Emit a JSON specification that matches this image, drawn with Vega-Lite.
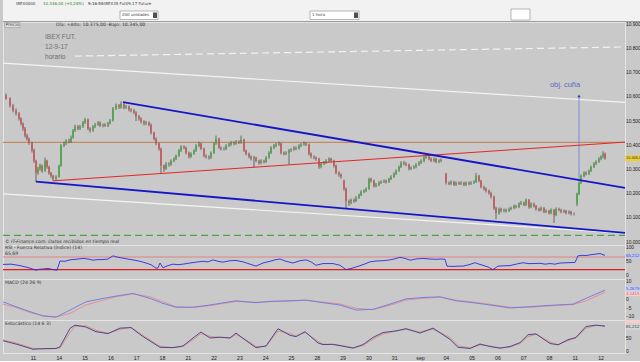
{
"$schema": "https://vega.github.io/schema/vega-lite/v6.json",
"background": "#c9c9c9",
"padding": 0,
"bounds": "flush",
"spacing": 0,
"config": {
  "font": "DejaVu Sans",
  "view": {"stroke": "#e4e4e4", "fill": "#c9c9c9", "strokeWidth": 1},
  "axis": {"labelFont": "Liberation Sans", "labelFontSize": 4.8, "labelColor": "#202020", "ticks": false, "tickSize": 0, "domain": false, "grid": false, "labelPadding": 0.5}
},
"datasets": {
  "candles": [
{"i":3,"o":10606,"h":10614,"l":10588,"c":10593},{"i":7,"o":10593,"h":10598,"l":10556,"c":10564},{"i":10,"o":10564,"h":10571,"l":10536,"c":10544},{"i":13,"o":10544,"h":10552,"l":10523,"c":10531},{"i":16,"o":10531,"h":10537,"l":10502,"c":10510},{"i":18,"o":10510,"h":10515,"l":10482,"c":10490},{"i":20,"o":10490,"h":10494,"l":10460,"c":10469},{"i":22,"o":10469,"h":10475,"l":10432,"c":10440},{"i":24,"o":10440,"h":10447,"l":10419,"c":10427},{"i":26,"o":10427,"h":10432,"l":10402,"c":10411},
{"i":29,"o":10411,"h":10415,"l":10370,"c":10378},{"i":31,"o":10378,"h":10386,"l":10327,"c":10336},{"i":33,"o":10336,"h":10340,"l":10249,"c":10286},{"i":35,"o":10286,"h":10311,"l":10278,"c":10303},{"i":37,"o":10303,"h":10324,"l":10295,"c":10315},{"i":39,"o":10315,"h":10320,"l":10286,"c":10295},{"i":42,"o":10295,"h":10349,"l":10290,"c":10336},{"i":44,"o":10336,"h":10340,"l":10303,"c":10311},{"i":46,"o":10311,"h":10315,"l":10278,"c":10286},{"i":48,"o":10286,"h":10290,"l":10266,"c":10274},
{"i":50,"o":10274,"h":10278,"l":10253,"c":10261},{"i":53,"o":10261,"h":10276,"l":10255,"c":10270},{"i":56,"o":10270,"h":10320,"l":10266,"c":10315},{"i":58,"o":10315,"h":10405,"l":10311,"c":10398},{"i":61,"o":10398,"h":10415,"l":10392,"c":10407},{"i":63,"o":10407,"h":10425,"l":10400,"c":10419},{"i":66,"o":10419,"h":10427,"l":10408,"c":10415},{"i":68,"o":10415,"h":10440,"l":10410,"c":10432},{"i":70,"o":10432,"h":10467,"l":10427,"c":10461},{"i":72,"o":10461,"h":10485,"l":10455,"c":10477},
{"i":75,"o":10477,"h":10483,"l":10462,"c":10469},{"i":77,"o":10469,"h":10484,"l":10463,"c":10477},{"i":80,"o":10477,"h":10500,"l":10472,"c":10494},{"i":82,"o":10494,"h":10513,"l":10488,"c":10506},{"i":85,"o":10506,"h":10510,"l":10462,"c":10469},{"i":87,"o":10469,"h":10474,"l":10452,"c":10461},{"i":90,"o":10461,"h":10483,"l":10456,"c":10477},{"i":92,"o":10477,"h":10492,"l":10471,"c":10485},{"i":95,"o":10485,"h":10500,"l":10480,"c":10494},{"i":97,"o":10494,"h":10498,"l":10475,"c":10481},
{"i":100,"o":10481,"h":10490,"l":10474,"c":10485},{"i":102,"o":10485,"h":10491,"l":10476,"c":10481},{"i":105,"o":10481,"h":10496,"l":10475,"c":10490},{"i":107,"o":10490,"h":10508,"l":10486,"c":10502},{"i":110,"o":10502,"h":10558,"l":10498,"c":10552},{"i":113,"o":10552,"h":10572,"l":10546,"c":10564},{"i":116,"o":10564,"h":10570,"l":10550,"c":10556},{"i":118,"o":10556,"h":10581,"l":10551,"c":10569},{"i":121,"o":10569,"h":10574,"l":10549,"c":10556},{"i":123,"o":10556,"h":10567,"l":10550,"c":10560},
{"i":126,"o":10560,"h":10565,"l":10540,"c":10548},{"i":128,"o":10548,"h":10553,"l":10536,"c":10544},{"i":131,"o":10544,"h":10550,"l":10528,"c":10535},{"i":133,"o":10535,"h":10540,"l":10500,"c":10519},{"i":136,"o":10519,"h":10525,"l":10502,"c":10510},{"i":138,"o":10510,"h":10515,"l":10490,"c":10498},{"i":141,"o":10498,"h":10503,"l":10482,"c":10490},{"i":143,"o":10490,"h":10500,"l":10484,"c":10494},{"i":146,"o":10494,"h":10498,"l":10478,"c":10485},{"i":148,"o":10485,"h":10490,"l":10445,"c":10452},
{"i":151,"o":10452,"h":10456,"l":10420,"c":10427},{"i":153,"o":10427,"h":10432,"l":10400,"c":10407},{"i":156,"o":10407,"h":10411,"l":10378,"c":10386},{"i":158,"o":10386,"h":10390,"l":10282,"c":10315},{"i":161,"o":10315,"h":10320,"l":10290,"c":10303},{"i":163,"o":10303,"h":10330,"l":10298,"c":10324},{"i":166,"o":10324,"h":10330,"l":10312,"c":10320},{"i":168,"o":10320,"h":10342,"l":10315,"c":10336},{"i":171,"o":10336,"h":10350,"l":10330,"c":10344},{"i":173,"o":10344,"h":10362,"l":10339,"c":10357},
{"i":176,"o":10357,"h":10384,"l":10352,"c":10378},{"i":178,"o":10378,"h":10400,"l":10372,"c":10394},{"i":181,"o":10394,"h":10400,"l":10384,"c":10390},{"i":183,"o":10390,"h":10394,"l":10362,"c":10369},{"i":186,"o":10369,"h":10374,"l":10345,"c":10353},{"i":188,"o":10353,"h":10371,"l":10348,"c":10365},{"i":191,"o":10365,"h":10383,"l":10360,"c":10378},{"i":193,"o":10378,"h":10404,"l":10373,"c":10398},{"i":196,"o":10398,"h":10415,"l":10392,"c":10407},{"i":198,"o":10407,"h":10411,"l":10380,"c":10386},
{"i":201,"o":10386,"h":10390,"l":10350,"c":10357},{"i":203,"o":10357,"h":10362,"l":10345,"c":10353},{"i":206,"o":10353,"h":10358,"l":10341,"c":10349},{"i":208,"o":10349,"h":10374,"l":10344,"c":10369},{"i":211,"o":10369,"h":10412,"l":10364,"c":10407},{"i":213,"o":10407,"h":10440,"l":10402,"c":10427},{"i":216,"o":10427,"h":10431,"l":10384,"c":10390},{"i":218,"o":10390,"h":10395,"l":10378,"c":10386},{"i":221,"o":10386,"h":10392,"l":10378,"c":10386},{"i":223,"o":10386,"h":10404,"l":10380,"c":10398},
{"i":226,"o":10398,"h":10410,"l":10393,"c":10403},{"i":228,"o":10403,"h":10417,"l":10398,"c":10411},{"i":231,"o":10411,"h":10416,"l":10400,"c":10407},{"i":233,"o":10407,"h":10421,"l":10402,"c":10415},{"i":236,"o":10415,"h":10420,"l":10405,"c":10411},{"i":238,"o":10411,"h":10440,"l":10406,"c":10423},{"i":241,"o":10423,"h":10427,"l":10372,"c":10378},{"i":243,"o":10378,"h":10382,"l":10358,"c":10365},{"i":246,"o":10365,"h":10370,"l":10346,"c":10353},{"i":248,"o":10353,"h":10358,"l":10337,"c":10344},
{"i":251,"o":10344,"h":10356,"l":10307,"c":10349},{"i":253,"o":10349,"h":10352,"l":10330,"c":10336},{"i":256,"o":10336,"h":10340,"l":10320,"c":10328},{"i":258,"o":10328,"h":10342,"l":10322,"c":10336},{"i":261,"o":10336,"h":10340,"l":10325,"c":10332},{"i":263,"o":10332,"h":10355,"l":10327,"c":10349},{"i":266,"o":10349,"h":10375,"l":10344,"c":10369},{"i":268,"o":10369,"h":10396,"l":10364,"c":10390},{"i":271,"o":10390,"h":10405,"l":10384,"c":10398},{"i":273,"o":10398,"h":10410,"l":10392,"c":10403},
{"i":276,"o":10403,"h":10415,"l":10398,"c":10407},{"i":278,"o":10407,"h":10411,"l":10362,"c":10369},{"i":281,"o":10369,"h":10374,"l":10358,"c":10365},{"i":283,"o":10365,"h":10375,"l":10360,"c":10369},{"i":286,"o":10369,"h":10384,"l":10320,"c":10378},{"i":288,"o":10378,"h":10388,"l":10372,"c":10382},{"i":291,"o":10382,"h":10396,"l":10377,"c":10390},{"i":293,"o":10390,"h":10395,"l":10380,"c":10386},{"i":296,"o":10386,"h":10404,"l":10382,"c":10398},{"i":298,"o":10398,"h":10409,"l":10392,"c":10403},
{"i":301,"o":10403,"h":10415,"l":10398,"c":10407},{"i":303,"o":10407,"h":10412,"l":10397,"c":10403},{"i":306,"o":10403,"h":10407,"l":10358,"c":10365},{"i":308,"o":10365,"h":10370,"l":10346,"c":10353},{"i":311,"o":10353,"h":10358,"l":10342,"c":10349},{"i":313,"o":10349,"h":10354,"l":10336,"c":10344},{"i":316,"o":10344,"h":10348,"l":10303,"c":10311},{"i":318,"o":10311,"h":10330,"l":10305,"c":10324},{"i":321,"o":10324,"h":10335,"l":10318,"c":10328},{"i":323,"o":10328,"h":10342,"l":10323,"c":10336},
{"i":326,"o":10336,"h":10350,"l":10330,"c":10344},{"i":328,"o":10344,"h":10349,"l":10330,"c":10336},{"i":331,"o":10336,"h":10340,"l":10308,"c":10315},{"i":333,"o":10315,"h":10320,"l":10280,"c":10286},{"i":336,"o":10286,"h":10292,"l":10270,"c":10278},{"i":338,"o":10278,"h":10283,"l":10262,"c":10270},{"i":341,"o":10253,"h":10258,"l":10212,"c":10220},{"i":343,"o":10220,"h":10225,"l":10137,"c":10170},{"i":346,"o":10170,"h":10176,"l":10150,"c":10162},{"i":348,"o":10162,"h":10180,"l":10156,"c":10174},
{"i":351,"o":10174,"h":10180,"l":10162,"c":10170},{"i":353,"o":10170,"h":10190,"l":10165,"c":10183},{"i":356,"o":10183,"h":10200,"l":10178,"c":10195},{"i":358,"o":10195,"h":10214,"l":10190,"c":10208},{"i":361,"o":10208,"h":10218,"l":10202,"c":10212},{"i":363,"o":10212,"h":10226,"l":10206,"c":10220},{"i":366,"o":10220,"h":10266,"l":10215,"c":10261},{"i":368,"o":10261,"h":10266,"l":10246,"c":10253},{"i":371,"o":10253,"h":10258,"l":10225,"c":10232},{"i":373,"o":10232,"h":10244,"l":10226,"c":10237},
{"i":376,"o":10237,"h":10252,"l":10231,"c":10245},{"i":378,"o":10245,"h":10255,"l":10240,"c":10249},{"i":381,"o":10249,"h":10259,"l":10244,"c":10253},{"i":383,"o":10253,"h":10258,"l":10242,"c":10249},{"i":386,"o":10249,"h":10266,"l":10244,"c":10261},{"i":388,"o":10261,"h":10276,"l":10256,"c":10270},{"i":391,"o":10270,"h":10288,"l":10265,"c":10282},{"i":393,"o":10282,"h":10300,"l":10277,"c":10295},{"i":396,"o":10295,"h":10316,"l":10290,"c":10311},{"i":398,"o":10311,"h":10334,"l":10306,"c":10328},
{"i":401,"o":10328,"h":10335,"l":10317,"c":10324},{"i":403,"o":10324,"h":10330,"l":10313,"c":10320},{"i":406,"o":10320,"h":10324,"l":10296,"c":10303},{"i":408,"o":10303,"h":10313,"l":10298,"c":10307},{"i":411,"o":10307,"h":10317,"l":10302,"c":10311},{"i":413,"o":10311,"h":10326,"l":10305,"c":10320},{"i":416,"o":10320,"h":10334,"l":10315,"c":10328},{"i":418,"o":10328,"h":10342,"l":10322,"c":10336},{"i":421,"o":10336,"h":10356,"l":10330,"c":10349},{"i":423,"o":10349,"h":10360,"l":10344,"c":10353},
{"i":426,"o":10353,"h":10358,"l":10338,"c":10344},{"i":428,"o":10344,"h":10350,"l":10330,"c":10336},{"i":431,"o":10336,"h":10350,"l":10330,"c":10344},{"i":433,"o":10344,"h":10348,"l":10326,"c":10332},{"i":436,"o":10332,"h":10342,"l":10326,"c":10336},{"i":438,"o":10336,"h":10345,"l":10330,"c":10340},{"i":443,"o":10282,"h":10286,"l":10238,"c":10245},{"i":446,"o":10245,"h":10250,"l":10235,"c":10241},{"i":448,"o":10241,"h":10255,"l":10236,"c":10249},{"i":451,"o":10249,"h":10253,"l":10232,"c":10237},
{"i":453,"o":10237,"h":10250,"l":10232,"c":10245},{"i":456,"o":10245,"h":10250,"l":10236,"c":10241},{"i":458,"o":10241,"h":10251,"l":10236,"c":10245},{"i":461,"o":10245,"h":10249,"l":10231,"c":10237},{"i":463,"o":10237,"h":10250,"l":10232,"c":10245},{"i":466,"o":10245,"h":10250,"l":10235,"c":10241},{"i":468,"o":10241,"h":10251,"l":10236,"c":10245},{"i":471,"o":10245,"h":10255,"l":10240,"c":10249},{"i":473,"o":10249,"h":10286,"l":10244,"c":10274},{"i":476,"o":10274,"h":10278,"l":10247,"c":10253},
{"i":478,"o":10253,"h":10257,"l":10222,"c":10228},{"i":481,"o":10228,"h":10233,"l":10213,"c":10220},{"i":483,"o":10220,"h":10226,"l":10205,"c":10212},{"i":486,"o":10212,"h":10217,"l":10196,"c":10203},{"i":488,"o":10203,"h":10208,"l":10180,"c":10187},{"i":491,"o":10187,"h":10192,"l":10133,"c":10141},{"i":493,"o":10141,"h":10146,"l":10095,"c":10120},{"i":496,"o":10120,"h":10143,"l":10113,"c":10137},{"i":498,"o":10137,"h":10142,"l":10122,"c":10129},{"i":501,"o":10129,"h":10139,"l":10123,"c":10133},
{"i":503,"o":10133,"h":10138,"l":10122,"c":10129},{"i":506,"o":10129,"h":10143,"l":10124,"c":10137},{"i":508,"o":10137,"h":10147,"l":10132,"c":10141},{"i":511,"o":10141,"h":10155,"l":10136,"c":10149},{"i":513,"o":10149,"h":10154,"l":10139,"c":10145},{"i":516,"o":10145,"h":10164,"l":10140,"c":10158},{"i":518,"o":10158,"h":10170,"l":10153,"c":10162},{"i":521,"o":10162,"h":10167,"l":10148,"c":10154},{"i":523,"o":10154,"h":10180,"l":10149,"c":10174},{"i":526,"o":10174,"h":10178,"l":10138,"c":10145},
{"i":528,"o":10145,"h":10164,"l":10140,"c":10158},{"i":531,"o":10158,"h":10163,"l":10143,"c":10149},{"i":533,"o":10149,"h":10153,"l":10130,"c":10137},{"i":536,"o":10137,"h":10142,"l":10126,"c":10133},{"i":538,"o":10133,"h":10147,"l":10128,"c":10141},{"i":541,"o":10141,"h":10145,"l":10119,"c":10125},{"i":543,"o":10125,"h":10135,"l":10120,"c":10129},{"i":546,"o":10129,"h":10133,"l":10114,"c":10120},{"i":548,"o":10120,"h":10139,"l":10115,"c":10133},{"i":551,"o":10133,"h":10137,"l":10079,"c":10112},
{"i":553,"o":10112,"h":10143,"l":10107,"c":10137},{"i":556,"o":10137,"h":10142,"l":10127,"c":10133},{"i":558,"o":10133,"h":10138,"l":10119,"c":10125},{"i":561,"o":10125,"h":10135,"l":10120,"c":10129},{"i":563,"o":10129,"h":10133,"l":10114,"c":10120},{"i":566,"o":10120,"h":10131,"l":10115,"c":10125},{"i":568,"o":10125,"h":10129,"l":10110,"c":10116},{"i":571,"o":10116,"h":10122,"l":10110,"c":10116},{"i":574,"o":10158,"h":10204,"l":10149,"c":10199},{"i":576,"o":10199,"h":10250,"l":10194,"c":10245},
{"i":578,"o":10245,"h":10280,"l":10240,"c":10274},{"i":581,"o":10274,"h":10292,"l":10268,"c":10286},{"i":583,"o":10286,"h":10292,"l":10276,"c":10282},{"i":586,"o":10282,"h":10300,"l":10277,"c":10295},{"i":588,"o":10295,"h":10316,"l":10290,"c":10311},{"i":591,"o":10311,"h":10330,"l":10306,"c":10324},{"i":593,"o":10324,"h":10338,"l":10318,"c":10332},{"i":596,"o":10332,"h":10350,"l":10327,"c":10344},{"i":598,"o":10344,"h":10358,"l":10338,"c":10353},{"i":600,"o":10353,"h":10375,"l":10346,"c":10365},
{"i":602,"o":10365,"h":10370,"l":10340,"c":10346}
  ],
  "trend": [
    {"id":"wd","i":72,"p":10768},{"id":"wd","i":622,"p":10806},
    {"id":"wu","i":0,"p":10739},{"id":"wu","i":622,"p":10577},
    {"id":"wl","i":0,"p":10199},{"id":"wl","i":622,"p":10037},
    {"id":"or","i":0,"p":10412},{"id":"or","i":622,"p":10412},
    {"id":"rd","i":50,"p":10253},{"id":"rd","i":622,"p":10413},
    {"id":"bu","i":120,"p":10578},{"id":"bu","i":622,"p":10224},
    {"id":"bl","i":33,"p":10250},{"id":"bl","i":622,"p":10038},
    {"id":"gd","i":0,"p":10028},{"id":"gd","i":622,"p":10028},
    {"id":"ar","i":576,"p":10261},{"id":"ar","i":576,"p":10602}
  ],
  "rsi": [
    {"i":0,"v":39},{"i":8,"v":40},{"i":17,"v":35},{"i":27,"v":26},{"i":33,"v":19},{"i":36,"v":22},{"i":40,"v":23},{"i":45,"v":25},{"i":50,"v":21},{"i":54,"v":19},{"i":57,"v":51},{"i":62,"v":50},{"i":67,"v":55},{"i":73,"v":57},{"i":80,"v":60},{"i":85,"v":58},{"i":90,"v":54},{"i":95,"v":56},{"i":100,"v":56},{"i":105,"v":58},{"i":110,"v":69},{"i":115,"v":64},{"i":120,"v":61},{"i":126,"v":57},{"i":133,"v":53},{"i":138,"v":49},{"i":143,"v":44},{"i":148,"v":38},{"i":153,"v":26},{"i":155,"v":27},{"i":157,"v":44},{"i":160,"v":27},{"i":165,"v":35},{"i":170,"v":40},{"i":175,"v":38},{"i":180,"v":40},{"i":187,"v":44},{"i":193,"v":47},{"i":200,"v":50},{"i":205,"v":48},{"i":210,"v":55},{"i":215,"v":50},{"i":220,"v":47},{"i":227,"v":52},{"i":233,"v":53},{"i":240,"v":48},{"i":247,"v":40},{"i":253,"v":33},{"i":260,"v":44},{"i":267,"v":50},{"i":272,"v":55},{"i":277,"v":58},{"i":283,"v":50},{"i":290,"v":44},{"i":297,"v":52},{"i":303,"v":55},{"i":308,"v":48},{"i":313,"v":36},{"i":320,"v":42},{"i":330,"v":42},{"i":337,"v":36},{"i":343,"v":21},{"i":348,"v":25},{"i":353,"v":30},{"i":358,"v":36},{"i":363,"v":42},{"i":367,"v":48},{"i":373,"v":51},{"i":380,"v":52},{"i":385,"v":54},{"i":390,"v":57},{"i":397,"v":64},{"i":402,"v":60},{"i":407,"v":54},{"i":413,"v":58},{"i":420,"v":60},{"i":427,"v":58},{"i":433,"v":57},{"i":438,"v":58},{"i":442,"v":57},{"i":444,"v":33},{"i":450,"v":32},{"i":455,"v":33},{"i":460,"v":33},{"i":466,"v":38},{"i":472,"v":45},{"i":476,"v":40},{"i":480,"v":36},{"i":485,"v":30},{"i":490,"v":21},{"i":495,"v":33},{"i":500,"v":34},{"i":507,"v":35},{"i":513,"v":40},{"i":520,"v":45},{"i":525,"v":42},{"i":530,"v":42},{"i":537,"v":43},{"i":542,"v":40},{"i":547,"v":42},{"i":552,"v":40},{"i":557,"v":44},{"i":565,"v":45},{"i":572,"v":46},{"i":575,"v":69},{"i":579,"v":71},{"i":583,"v":70},{"i":588,"v":73},{"i":592,"v":75},{"i":597,"v":77},{"i":600,"v":73},{"i":602,"v":71}
  ],
  "macd": [
    {"i":0,"m":-1.4,"s":-2.7},{"i":13,"m":-4.2,"s":-4.6},{"i":27,"m":-7.0,"s":-7.6},{"i":40,"m":-9.5,"s":-9.3},{"i":53,"m":-10.2,"s":-10.0},{"i":67,"m":-6.1,"s":-8.0},{"i":83,"m":-1.4,"s":-3.2},{"i":100,"m":0.6,"s":-0.4},{"i":113,"m":1.9,"s":1.5},{"i":130,"m":3.4,"s":3.2},{"i":147,"m":0.6,"s":1.5},{"i":160,"m":-2.3,"s":-1.4},{"i":173,"m":-4.5,"s":-4.2},{"i":190,"m":-4.5,"s":-4.6},{"i":207,"m":-3.2,"s":-3.6},{"i":233,"m":-0.8,"s":-1.2},{"i":253,"m":-1.9,"s":-1.6},{"i":267,"m":-1.1,"s":-1.3},{"i":287,"m":-0.8,"s":-0.9},{"i":303,"m":-0.4,"s":-0.5},{"i":320,"m":-1.9,"s":-1.5},{"i":337,"m":-3.2,"s":-2.6},{"i":353,"m":-6.1,"s":-5.1},{"i":370,"m":-5.7,"s":-5.9},{"i":387,"m":-2.7,"s":-3.4},{"i":403,"m":0.3,"s":-0.4},{"i":420,"m":1.1,"s":0.6},{"i":437,"m":1.5,"s":1.3},{"i":453,"m":-0.8,"s":-0.4},{"i":470,"m":-1.9,"s":-1.5},{"i":487,"m":-3.2,"s":-2.8},{"i":507,"m":-4.9,"s":-4.5},{"i":527,"m":-4.2,"s":-4.5},{"i":547,"m":-3.4,"s":-3.7},{"i":570,"m":-2.7,"s":-3.0},{"i":583,"m":0.6,"s":-0.8},{"i":602,"m":5.3,"s":4.1}
  ],
  "stoch": [
    {"i":0,"k":40,"d":43},{"i":13,"k":28,"d":32},{"i":30,"k":9,"d":12},{"i":40,"k":11,"d":10},{"i":53,"k":12,"d":12},{"i":57,"k":18,"d":14},{"i":67,"k":85,"d":70},{"i":72,"k":97,"d":92},{"i":83,"k":90,"d":95},{"i":93,"k":73,"d":78},{"i":105,"k":66,"d":67},{"i":117,"k":86,"d":82},{"i":128,"k":88,"d":89},{"i":140,"k":55,"d":60},{"i":157,"k":16,"d":20},{"i":170,"k":15,"d":15},{"i":180,"k":21,"d":19},{"i":190,"k":50,"d":44},{"i":198,"k":72,"d":66},{"i":207,"k":50,"d":56},{"i":217,"k":53,"d":52},{"i":227,"k":50,"d":51},{"i":233,"k":68,"d":63},{"i":247,"k":30,"d":35},{"i":253,"k":15,"d":19},{"i":263,"k":21,"d":19},{"i":275,"k":84,"d":76},{"i":287,"k":60,"d":66},{"i":293,"k":55,"d":57},{"i":302,"k":73,"d":70},{"i":315,"k":32,"d":38},{"i":320,"k":26,"d":28},{"i":330,"k":27,"d":26},{"i":340,"k":20,"d":22},{"i":350,"k":13,"d":15},{"i":360,"k":26,"d":22},{"i":370,"k":52,"d":46},{"i":380,"k":70,"d":65},{"i":393,"k":76,"d":75},{"i":403,"k":84,"d":82},{"i":417,"k":68,"d":72},{"i":430,"k":86,"d":83},{"i":447,"k":45,"d":52},{"i":455,"k":16,"d":22},{"i":467,"k":12,"d":13},{"i":477,"k":28,"d":25},{"i":487,"k":19,"d":21},{"i":497,"k":13,"d":14},{"i":507,"k":19,"d":17},{"i":517,"k":33,"d":30},{"i":525,"k":62,"d":55},{"i":533,"k":65,"d":64},{"i":547,"k":30,"d":35},{"i":555,"k":25,"d":26},{"i":565,"k":44,"d":40},{"i":573,"k":52,"d":50},{"i":583,"k":92,"d":86},{"i":593,"k":97,"d":96},{"i":602,"k":93,"d":95}
  ]
},
"vconcat": [
  {
    "width": 640, "height": 22,
    "view": {"fill": "#f2f2f2", "stroke": null},
    "layer": [
      {"data": {"values": [{"x":117,"x2":155,"y":11,"y2":19.5},{"x":307,"x2":356,"y":11,"y2":19.5},{"x":508,"x2":527,"y":9,"y2":20}]},
       "mark": {"type": "rect", "fill": "#ffffff", "stroke": "#9a9a9a", "strokeWidth": 0.7},
       "encoding": {"x": {"field":"x","type":"quantitative","scale":{"domain":[0,640],"nice":false,"zero":false,"padding":0},"axis":null},"x2":{"field":"x2"},"y":{"field":"y","type":"quantitative","scale":{"domain":[0,22],"reverse":true,"nice":false,"zero":false},"axis":null},"y2":{"field":"y2"}}},
      {"data": {"values": [{"x":150,"x2":154,"y":12.5,"y2":18},{"x":351,"x2":355,"y":12.5,"y2":18}]},
       "mark": {"type": "rect", "fill": "#505050"},
       "encoding": {"x": {"field":"x","type":"quantitative","axis":null},"x2":{"field":"x2"},"y":{"field":"y","type":"quantitative","axis":null},"y2":{"field":"y2"}}},
      {"data": {"values": [{"x":13,"y":4,"t":"IBEX0000","k":"n"},{"x":40,"y":4,"t":"10.346,00 (+0,28%)","k":"g"},{"x":85,"y":4,"t":"9:16:58","k":"b"},{"x":101,"y":4,"t":"IBEX35 Fut09.17 Future","k":"n"},{"x":119,"y":15.2,"t":"200 unidades","k":"n"},{"x":309,"y":15.2,"t":"1 hora","k":"n"}]},
       "mark": {"type": "text", "align": "left", "baseline": "middle", "fontSize": 4},
       "encoding": {"x": {"field":"x","type":"quantitative","axis":null},"y":{"field":"y","type":"quantitative","axis":null},"text":{"field":"t"},
         "color": {"field":"k","type":"nominal","scale":{"domain":["n","g","b"],"range":["#404040","#1f8a1f","#202020"]},"legend":null}}},
      {"data": {"values": [{}]}, "mark": {"type": "rule", "color": "#9c9c9c", "strokeWidth": 1},
       "encoding": {"y": {"datum": 21.5, "type": "quantitative"}}}
    ]
  },
  {
    "width": 622, "height": 223,
    "resolve": {"axis": {"x": "independent", "y": "independent"}},
    "layer": [
      {"data": {"name": "trend"}, "transform": [{"filter": "datum.id == 'wd'"}],
       "mark": {"type": "line", "color": "#f2f2f2", "strokeWidth": 1.2, "strokeDash": [7, 4]},
       "encoding": {"x": {"field":"i","type":"quantitative","scale":{"domain":[0,622],"nice":false,"zero":false,"padding":0},"axis":null},
                    "y": {"field":"p","type":"quantitative","scale":{"domain":[9988,10909],"nice":false,"zero":false},
                          "axis":{"orient":"right","title":null,"values":[10000,10100,10200,10300,10400,10500,10600,10700,10800,10900],"labelExpr":"format(datum.value/1000,'.3f')"}}}},
      {"data": {"name": "trend"}, "transform": [{"filter": "datum.id == 'wu' || datum.id == 'wl'"}],
       "mark": {"type": "line", "color": "#f4f4f4", "strokeWidth": 1.2},
       "encoding": {"x": {"field":"i","type":"quantitative","axis":null},"y": {"field":"p","type":"quantitative","axis":null},"detail":{"field":"id"}}},
      {"data": {"name": "trend"}, "transform": [{"filter": "datum.id == 'or'"}],
       "mark": {"type": "line", "color": "#c47a4c", "strokeWidth": 1},
       "encoding": {"x": {"field":"i","type":"quantitative","axis":null},"y": {"field":"p","type":"quantitative","axis":null}}},
      {"data": {"name": "trend"}, "transform": [{"filter": "datum.id == 'gd'"}],
       "mark": {"type": "line", "color": "#2e9a2e", "strokeWidth": 1, "strokeDash": [7, 4]},
       "encoding": {"x": {"field":"i","type":"quantitative","axis":null},"y": {"field":"p","type":"quantitative","axis":null}}},
      {"data": {"name": "trend"}, "transform": [{"filter": "datum.id == 'ar'"}],
       "mark": {"type": "line", "color": "#7c88d4", "strokeWidth": 1},
       "encoding": {"x": {"field":"i","type":"quantitative","axis":null},"y": {"field":"p","type":"quantitative","axis":null}}},
      {"data": {"name": "candles"}, "mark": {"type": "rule", "color": "#3a3a3a", "strokeWidth": 0.7},
       "encoding": {"x": {"field":"i","type":"quantitative","axis":null},"y": {"field":"l","type":"quantitative","axis":null},"y2":{"field":"h"}}},
      {"data": {"name": "candles"}, "mark": {"type": "bar", "size": 1.8},
       "encoding": {"x": {"field":"i","type":"quantitative","axis":null},"y": {"field":"o","type":"quantitative","axis":null},"y2":{"field":"c"},
                    "color": {"condition": {"test": "datum.c >= datum.o", "value": "#4fa84f"}, "value": "#c45e5e"}}},
      {"data": {"name": "trend"}, "transform": [{"filter": "datum.id == 'rd'"}],
       "mark": {"type": "line", "color": "#e42626", "strokeWidth": 1},
       "encoding": {"x": {"field":"i","type":"quantitative","axis":null},"y": {"field":"p","type":"quantitative","axis":null}}},
      {"data": {"name": "trend"}, "transform": [{"filter": "datum.id == 'bu' || datum.id == 'bl'"}],
       "mark": {"type": "line", "color": "#1616c8", "strokeWidth": 1.8},
       "encoding": {"x": {"field":"i","type":"quantitative","axis":null},"y": {"field":"p","type":"quantitative","axis":null},"detail":{"field":"id"}}},
      {"data": {"values": [{"i":576,"p":10604}]}, "mark": {"type": "point", "shape": "triangle-up", "filled": true, "color": "#3040a0", "size": 10, "opacity": 1},
       "encoding": {"x": {"field":"i","type":"quantitative","axis":null},"y": {"field":"p","type":"quantitative","axis":null}}},
      {"data": {"values": [{"i":562,"p":10647,"t":"obj. cuña"}]}, "mark": {"type": "text", "color": "#5a68c8", "fontSize": 7.4, "font": "Liberation Sans"},
       "encoding": {"x": {"field":"i","type":"quantitative","axis":null},"y": {"field":"p","type":"quantitative","axis":null},"text":{"field":"t"}}},
      {"data": {"values": [{"i":42,"p":10849,"t":"IBEX FUT."},{"i":42,"p":10806,"t":"12-9-17"},{"i":42,"p":10765,"t":"horario"}]},
       "mark": {"type": "text", "color": "#6e6e6e", "fontSize": 6.6, "align": "left", "font": "Liberation Sans"},
       "encoding": {"x": {"field":"i","type":"quantitative","axis":null},"y": {"field":"p","type":"quantitative","axis":null},"text":{"field":"t"}}},
      {"data": {"values": [{"i":1.5,"i2":17,"p":10907,"p2":10886}]}, "mark": {"type": "rect", "fill": "#e2e2e2", "stroke": "#8a8a8a", "strokeWidth": 0.5},
       "encoding": {"x": {"field":"i","type":"quantitative","axis":null},"x2":{"field":"i2"},"y": {"field":"p","type":"quantitative","axis":null},"y2":{"field":"p2"}}},
      {"data": {"values": [{"i":2.5,"p":10896,"t":"Precio"},{"i":53,"p":10896,"t":"Día: +Alto: 10.375,00 -Bajo: 10.345,00"}]},
       "mark": {"type": "text", "color": "#333333", "fontSize": 4.6, "align": "left"},
       "encoding": {"x": {"field":"i","type":"quantitative","axis":null},"y": {"field":"p","type":"quantitative","axis":null},"text":{"field":"t"}}},
      {"data": {"values": [{"i":2,"p":10002,"t":"© IT-Finance.com. Datos recibidos en tiempo real"}]},
       "mark": {"type": "text", "color": "#333333", "fontSize": 4.6, "fontStyle": "italic", "align": "left"},
       "encoding": {"x": {"field":"i","type":"quantitative","axis":null},"y": {"field":"p","type":"quantitative","axis":null},"text":{"field":"t"}}},
      {"data": {"values": [{"i":622.5,"i2":642,"p":10358,"p2":10334}]}, "mark": {"type": "rect", "fill": "#f0cf36"},
       "encoding": {"x": {"field":"i","type":"quantitative","axis":null},"x2":{"field":"i2"},"y": {"field":"p","type":"quantitative","axis":null},"y2":{"field":"p2"}}},
      {"data": {"values": [{"i":623,"p":10346,"t":"10.346,0"}]}, "mark": {"type": "text", "color": "#333333", "fontSize": 3.9, "font": "Liberation Sans", "align": "left"},
       "encoding": {"x": {"field":"i","type":"quantitative","axis":null},"y": {"field":"p","type":"quantitative","axis":null},"text":{"field":"t"}}}
    ]
  },
  {
    "width": 622, "height": 34,
    "resolve": {"axis": {"x": "independent", "y": "independent"}},
    "layer": [
      {"data": {"values": [{}]}, "mark": {"type": "rule", "color": "#e87272", "strokeWidth": 0.8},
       "encoding": {"y": {"datum": 65, "type": "quantitative", "scale": {"domain": [-12, 107], "nice": false, "zero": false}, "axis": {"orient": "right", "title": null, "values": [0, 50, 100]}}}},
      {"data": {"values": [{}]}, "mark": {"type": "rule", "color": "#e01c1c", "strokeWidth": 1.3},
       "encoding": {"y": {"datum": 21, "type": "quantitative", "axis": null}}},
      {"data": {"name": "rsi"}, "mark": {"type": "line", "color": "#2a2ae6", "strokeWidth": 0.9},
       "encoding": {"x": {"field":"i","type":"quantitative","scale":{"domain":[0,622],"nice":false,"zero":false,"padding":0},"axis":null},"y": {"field":"v","type":"quantitative","axis":null}}},
      {"data": {"values": [{"i":622.5,"i2":642,"v":61,"v2":76}]}, "mark": {"type": "rect", "fill": "#c4c8ee"},
       "encoding": {"x": {"field":"i","type":"quantitative","axis":null},"x2":{"field":"i2"},"y": {"field":"v","type":"quantitative","axis":null},"y2":{"field":"v2"}}},
      {"data": {"values": [{"i":623,"v":68.5,"t":"65,212"}]}, "mark": {"type": "text", "color": "#3040c0", "fontSize": 4.4, "font": "Liberation Sans", "align": "left"},
       "encoding": {"x": {"field":"i","type":"quantitative","axis":null},"y": {"field":"v","type":"quantitative","axis":null},"text":{"field":"t"}}},
      {"data": {"values": [{"i":2,"v":95,"t":"RSI - Fuerza Relativa (índice) (14)"},{"i":2,"v":76,"t":"65,69"}]}, "mark": {"type": "text", "color": "#333333", "fontSize": 4.6, "align": "left"},
       "encoding": {"x": {"field":"i","type":"quantitative","axis":null},"y": {"field":"v","type":"quantitative","axis":null},"text":{"field":"t"}}}
    ]
  },
  {
    "width": 622, "height": 41,
    "resolve": {"axis": {"x": "independent", "y": "independent"}},
    "layer": [
      {"data": {"name": "macd"}, "mark": {"type": "line", "color": "#e88a8a", "strokeWidth": 0.9},
       "encoding": {"x": {"field":"i","type":"quantitative","scale":{"domain":[0,622],"nice":false,"zero":false,"padding":0},"axis":null},
                    "y": {"field":"s","type":"quantitative","scale":{"domain":[-11.8,11.7],"nice":false,"zero":false},"axis":{"orient":"right","title":null,"values":[-10,-5,0,10]}}}},
      {"data": {"name": "macd"}, "mark": {"type": "line", "color": "#6a78e6", "strokeWidth": 0.9},
       "encoding": {"x": {"field":"i","type":"quantitative","axis":null},"y": {"field":"m","type":"quantitative","axis":null}}},
      {"data": {"values": [{"i":622.5,"i2":642,"v":4.6,"v2":7.5}]}, "mark": {"type": "rect", "fill": "#ccd0f0"},
       "encoding": {"x": {"field":"i","type":"quantitative","axis":null},"x2":{"field":"i2"},"y": {"field":"v","type":"quantitative","axis":null},"y2":{"field":"v2"}}},
      {"data": {"values": [{"i":622.5,"i2":642,"v":1.9,"v2":4.5}]}, "mark": {"type": "rect", "fill": "#f0d4d4"},
       "encoding": {"x": {"field":"i","type":"quantitative","axis":null},"x2":{"field":"i2"},"y": {"field":"v","type":"quantitative","axis":null},"y2":{"field":"v2"}}},
      {"data": {"values": [{"i":623,"v":6.05,"t":"5,2679"}]}, "mark": {"type": "text", "color": "#3848c8", "fontSize": 4.4, "font": "Liberation Sans", "align": "left"},
       "encoding": {"x": {"field":"i","type":"quantitative","axis":null},"y": {"field":"v","type":"quantitative","axis":null},"text":{"field":"t"}}},
      {"data": {"values": [{"i":623,"v":3.2,"t":"4,1415"}]}, "mark": {"type": "text", "color": "#d05a5a", "fontSize": 4.4, "font": "Liberation Sans", "align": "left"},
       "encoding": {"x": {"field":"i","type":"quantitative","axis":null},"y": {"field":"v","type":"quantitative","axis":null},"text":{"field":"t"}}},
      {"data": {"values": [{"i":2,"v":9.4,"t":"MACD (24 26 9)"}]}, "mark": {"type": "text", "color": "#333333", "fontSize": 4.6, "align": "left"},
       "encoding": {"x": {"field":"i","type":"quantitative","axis":null},"y": {"field":"v","type":"quantitative","axis":null},"text":{"field":"t"}}}
    ]
  },
  {
    "width": 622, "height": 33,
    "resolve": {"axis": {"x": "independent", "y": "independent"}},
    "layer": [
      {"data": {"name": "stoch"}, "mark": {"type": "line", "color": "#e08878", "strokeWidth": 0.9},
       "encoding": {"x": {"field":"i","type":"quantitative","scale":{"domain":[0,622],"nice":false,"zero":false,"padding":0},
                          "axis":{"orient":"bottom","title":null,"labelPadding":2,"labelFontSize":5.2,"values":[30,55.8,81.6,107.4,133.2,159,184.8,210.6,236.4,262.2,288,313.8,339.6,365.4,391.2,417,442.8,468.6,494.4,520.2,546,571.8,597.6],
                                  "labelExpr":"['11','14','15','16','17','18','21','22','23','24','25','28','29','30','31','sep','04','05','06','07','08','11','12'][round((datum.value-30)/25.8)]"}},
                    "y": {"field":"d","type":"quantitative","scale":{"domain":[-4.7,115.7],"nice":false,"zero":false},"axis":{"orient":"right","title":null,"values":[0,50]}}}},
      {"data": {"name": "stoch"}, "mark": {"type": "line", "color": "#3c3c8c", "strokeWidth": 0.9},
       "encoding": {"x": {"field":"i","type":"quantitative","axis":null},"y": {"field":"k","type":"quantitative","axis":null}}},
      {"data": {"values": [{"i":622.5,"i2":642,"v":103,"v2":116}]}, "mark": {"type": "rect", "fill": "#f0d0d0"},
       "encoding": {"x": {"field":"i","type":"quantitative","axis":null},"x2":{"field":"i2"},"y": {"field":"v","type":"quantitative","axis":null},"y2":{"field":"v2"}}},
      {"data": {"values": [{"i":622.5,"i2":642,"v":80,"v2":101}]}, "mark": {"type": "rect", "fill": "#d6d6d6"},
       "encoding": {"x": {"field":"i","type":"quantitative","axis":null},"x2":{"field":"i2"},"y": {"field":"v","type":"quantitative","axis":null},"y2":{"field":"v2"}}},
      {"data": {"values": [{"i":623,"v":90,"t":"81,212"}]}, "mark": {"type": "text", "color": "#303030", "fontSize": 4.4, "font": "Liberation Sans", "align": "left"},
       "encoding": {"x": {"field":"i","type":"quantitative","axis":null},"y": {"field":"v","type":"quantitative","axis":null},"text":{"field":"t"}}},
      {"data": {"values": [{"i":2,"v":100,"t":"Estocástico (14 6 3)"}]}, "mark": {"type": "text", "color": "#333333", "fontSize": 4.6, "align": "left"},
       "encoding": {"x": {"field":"i","type":"quantitative","axis":null},"y": {"field":"v","type":"quantitative","axis":null},"text":{"field":"t"}}}
    ]
  }
]
}
